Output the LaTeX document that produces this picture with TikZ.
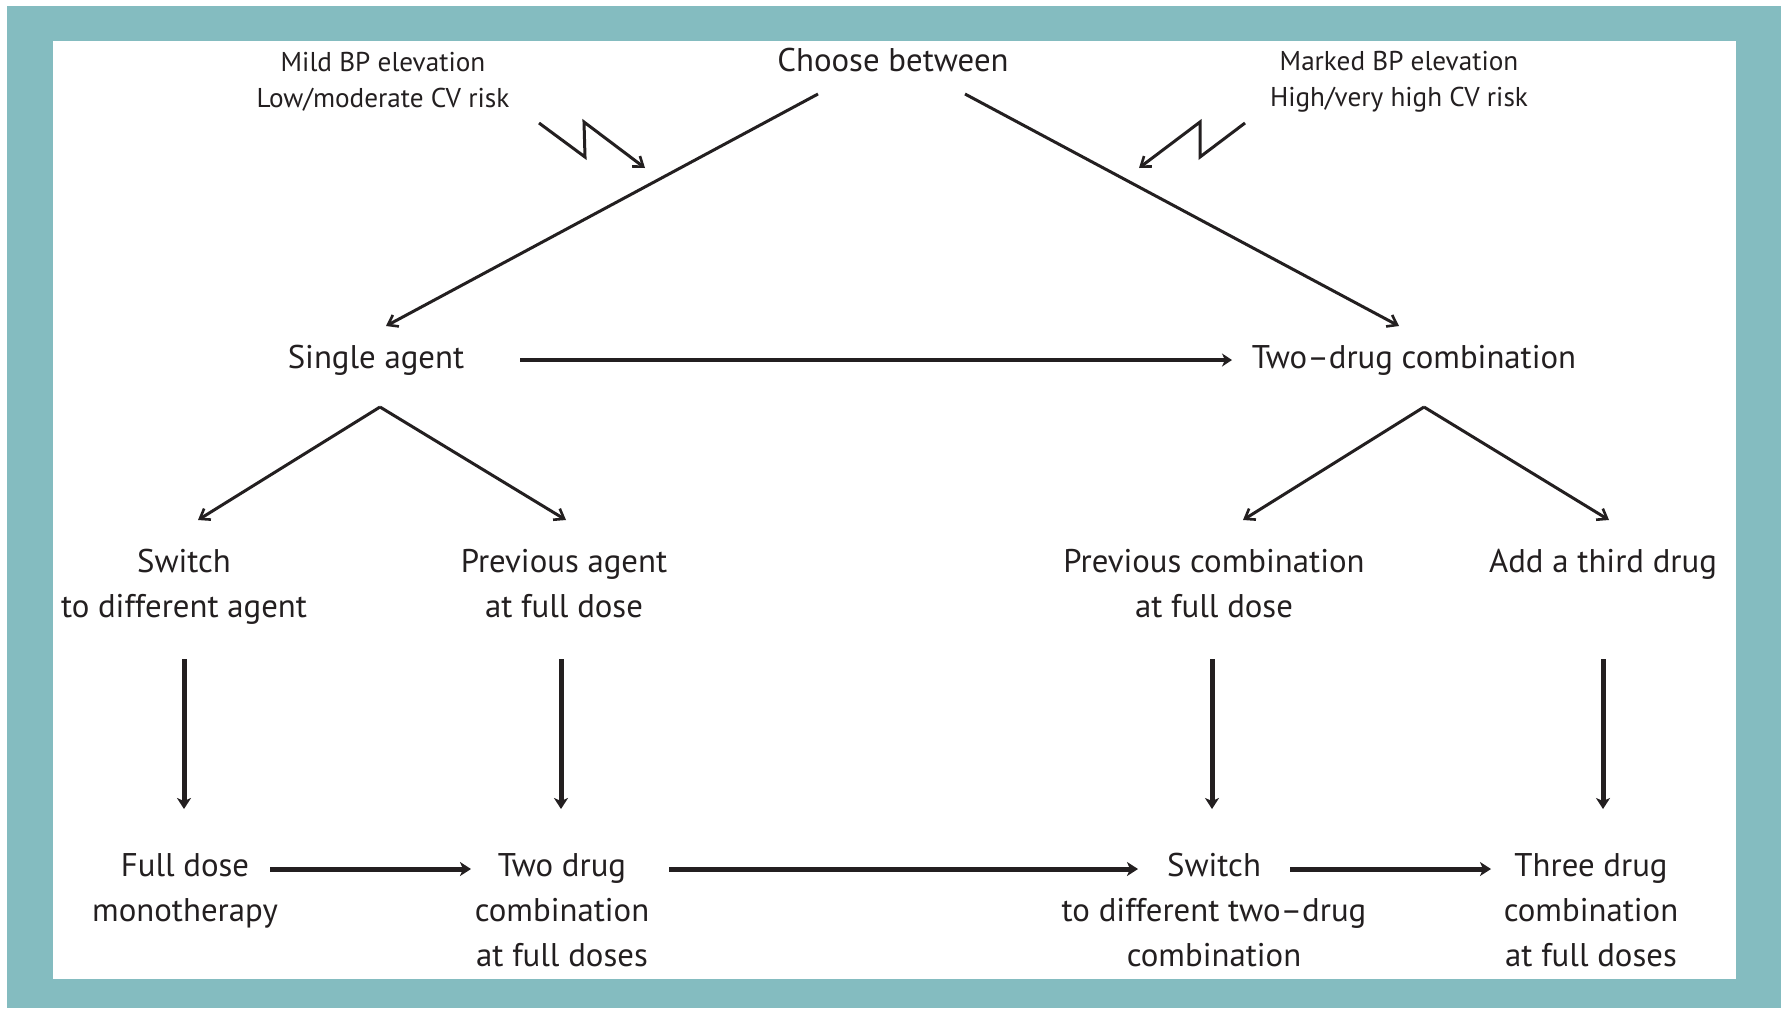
\documentclass[tikz,border=0pt]{standalone}
\usepackage{fontspec}
\setmainfont{PT Sans}
\usetikzlibrary{arrows.meta,calc}
\definecolor{frameteal}{HTML}{84BCC0}
\definecolor{ink}{HTML}{231F20}
\begin{document}
\begin{tikzpicture}[x=0.5pt,y=-0.5pt,
  txt/.style={inner sep=0pt,align=center,text=ink,font=\fontsize{16.4}{22.5}\selectfont},
  small/.style={inner sep=0pt,align=center,text=ink,font=\fontsize{13.6}{18}\selectfont},
  diag/.style={draw=ink,line width=1.5pt,-{Straight Barb[length=4.5pt,width=6.5pt,line width=1.3pt]}},
  bolt/.style={draw=ink,line width=1.5pt,line join=miter,-{Straight Barb[length=4.5pt,width=6.5pt,line width=1.3pt]}},
  hor/.style={draw=ink,line width=1.7pt,-{Stealth[length=5pt,width=6.5pt,inset=1.5pt]}},
  thick arr/.style={draw=ink,line width=2.5pt,-{Stealth[length=5.5pt,width=7pt,inset=1.5pt]}}]
\useasboundingbox (0,0) rectangle (1781,1008);
\fill[white] (0,0) rectangle (1781,1008);
\fill[frameteal] (7,6) rectangle (1781,1008);
\fill[white] (53,41) rectangle (1736,979);

% nodes
\node[txt] (choose) at (893,60) {Choose between};
\node[small] (mild) at (383,82) {Mild BP elevation\\Low/moderate CV risk};
\node[small] (marked) at (1399,82) {Marked BP elevation\\High/very high CV risk};
\node[txt] (single) at (376,360) {Single agent};
\node[txt] (twodrug) at (1414,360) {Two--drug combination};
\node[txt] (switchA) at (184,587) {Switch\\to different agent};
\node[txt] (prevA) at (564,584) {Previous agent\\at full dose};
\node[txt] (prevC) at (1214,584) {Previous combination\\at full dose};
\node[txt] (addthird) at (1603,564) {Add a third drug};
\node[txt] (fulldose) at (185,891) {Full dose\\monotherapy};
\node[txt] (twofull) at (562,910) {Two drug\\combination\\at full doses};
\node[txt] (switchC) at (1214,910) {Switch\\to different two--drug\\combination};
\node[txt] (three) at (1591,910) {Three drug\\combination\\at full doses};

% lightning bolts
\coordinate (boltL) at ($(mild)+(156,41)$);
\coordinate (boltLtip) at ($(mild)+(262,86)$);
\draw[bolt] (boltL) -- ++(46,34) -- ++(-1,-35) -- (boltLtip);
\coordinate (boltR) at ($(marked)+(-154,41)$);
\coordinate (boltRtip) at ($(marked)+(-260,86)$);
\draw[bolt] (boltR) -- ++(-45,34) -- ++(0,-35) -- (boltRtip);

% top branches
\draw[diag] ($(choose)+(-75,34)$) -- ($(single)+(10,-34)$);
\draw[diag] ($(choose)+(72,34)$) -- ($(twodrug)+(-15,-34)$);
\draw[hor] ($(single)+(144,0)$) -- ($(twodrug)+(-182,0)$);

% second level branches
\coordinate (sapex) at ($(single)+(4,47)$);
\draw[diag] (sapex) -- ($(switchA)+(14,-67)$);
\draw[diag] (sapex) -- ($(prevA)+(2,-64)$);
\coordinate (tapex) at ($(twodrug)+(10,47)$);
\draw[diag] (tapex) -- ($(prevC)+(29,-64)$);
\draw[diag] (tapex) -- ($(addthird)+(6,-44)$);

% verticals
\draw[thick arr] ($(switchA)+(0,72)$) -- ($(fulldose)+(-1,-82)$);
\draw[thick arr] ($(prevA)+(-3,75)$) -- ($(twofull)+(-1,-101)$);
\draw[thick arr] ($(prevC)+(-2,75)$) -- ($(switchC)+(-2,-101)$);
\draw[thick arr] ($(addthird)+(0,95)$) -- ($(three)+(12,-101)$);

% bottom horizontals
\draw[thick arr] ($(fulldose)+(85,-22)$) -- ($(twofull)+(-91,-41)$);
\draw[thick arr] ($(twofull)+(107,-41)$) -- ($(switchC)+(-76,-41)$);
\draw[thick arr] ($(switchC)+(76,-41)$) -- ($(three)+(-100,-41)$);
\end{tikzpicture}
\end{document}
